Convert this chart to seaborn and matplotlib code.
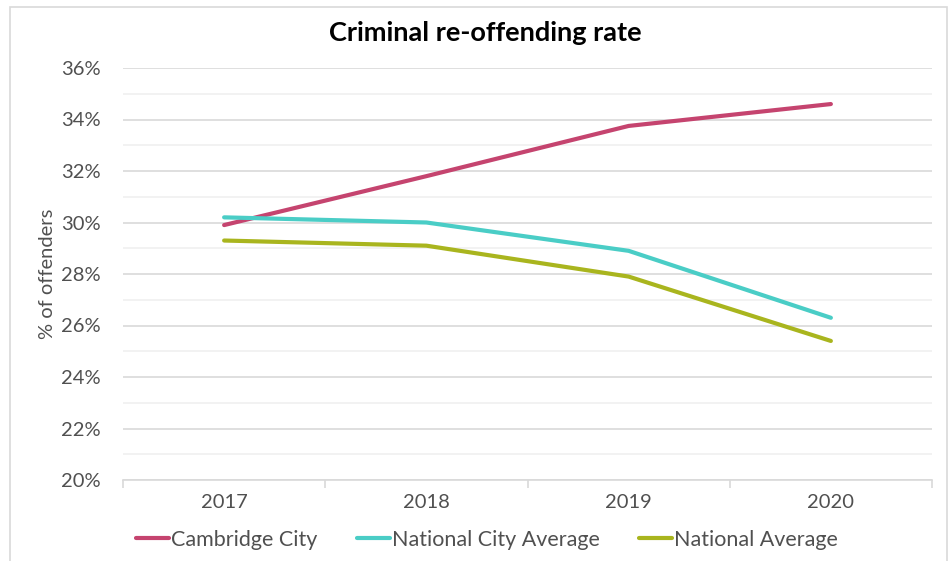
import matplotlib
matplotlib.use("Agg")
import matplotlib.pyplot as plt
from matplotlib.patches import Rectangle
from matplotlib.ticker import MultipleLocator, FuncFormatter
import seaborn as sns
import pandas as pd

years = ["2017", "2018", "2019", "2020"]
cambridge_city = [29.9, 31.8, 33.75, 34.6]
national_city_avg = [30.2, 30.0, 28.9, 26.3]
national_avg = [29.3, 29.1, 27.9, 25.4]
series_names = ["Cambridge City", "National City Average", "National Average"]
palette = ["#C5446F", "#4ACDC6", "#A9B51E"]

df = pd.DataFrame({
    "year": years * 3,
    "rate": cambridge_city + national_city_avg + national_avg,
    "series": [s for s in series_names for _ in years],
})

sns.set_theme(style="white")
plt.rcParams["font.family"] = ["Lato", "DejaVu Sans"]

TEXT = "#505050"

fig = plt.figure(figsize=(9.52, 5.61), dpi=100)
ax = fig.add_axes([123 / 952, 1 - 480 / 561, (932 - 123) / 952, (480 - 68) / 561])

# chart frame
fig.patches.append(Rectangle((10 / 952, -0.05), (947 - 10) / 952, 1 - 7 / 561 + 0.05,
                             transform=fig.transFigure, fill=False,
                             edgecolor="#D9D9D9", linewidth=1.2, zorder=0))

sns.lineplot(data=df, x="year", y="rate", hue="series", palette=palette,
             linewidth=3, ax=ax, legend=False, sort=False, zorder=3)

ax.set_xlim(-0.5, 3.5)
ax.set_ylim(20, 36)
ax.yaxis.set_major_locator(MultipleLocator(2))
ax.yaxis.set_minor_locator(MultipleLocator(1))
ax.yaxis.set_major_formatter(FuncFormatter(lambda v, p: f"{v:.0f}%"))
ax.grid(axis="y", which="major", color="#D9D9D9", linewidth=1.2, zorder=0)
ax.grid(axis="y", which="minor", color="#F0F0F0", linewidth=1.2, zorder=0)
ax.grid(axis="x", visible=False)
for side in ["top", "right", "left"]:
    ax.spines[side].set_visible(False)
ax.spines["bottom"].set_color("#D9D9D9")
ax.spines["bottom"].set_linewidth(1.2)

# tick marks between categories
ax.set_xticks([-0.5, 0.5, 1.5, 2.5, 3.5], minor=True)
ax.tick_params(axis="x", which="minor", length=6, color="#D9D9D9", width=1.2, bottom=True)
ax.tick_params(axis="x", which="major", length=0, pad=10, labelsize=14.5, labelcolor=TEXT)
ax.tick_params(axis="y", which="both", length=0, pad=16, labelsize=14.5, labelcolor=TEXT)

ax.set_xlabel("")
ax.set_ylabel("% of offenders", fontsize=14.5, color=TEXT, labelpad=4)

fig.text(485 / 952, 1 - 33 / 561, "Criminal re-offending rate", ha="center", va="center",
         fontsize=19.5, fontweight="bold", color="#000000")

handles = [plt.Line2D([], [], color=c, linewidth=3) for c in palette]
leg = fig.legend(handles, series_names, loc="center", bbox_to_anchor=(487 / 952, 1 - 540 / 561),
                 ncol=3, frameon=False, fontsize=15.5, handlelength=1.55, handletextpad=0.1,
                 columnspacing=1.8)
for t in leg.get_texts():
    t.set_color(TEXT)

fig.savefig("out.png", dpi=100)
